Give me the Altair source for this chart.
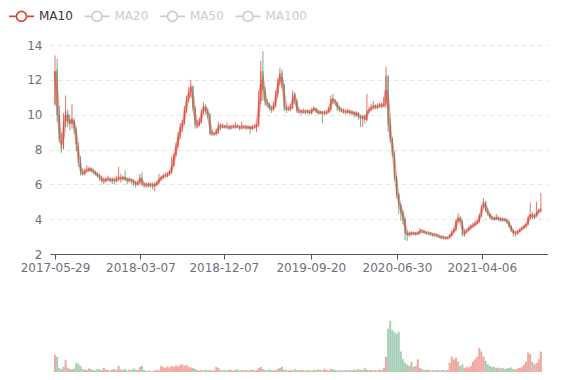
import altair as alt
import pandas as pd

# ---------------- data (weekly candles) ----------------
OPEN = [10.6, 12.6, 10.0, 8.5, 8.1, 9.6, 10.1, 9.7, 9.5, 9.7,
        9.2, 8.2, 7.2, 6.7, 6.6, 6.8, 6.8, 6.9, 6.8, 6.7,
        6.6, 6.5, 6.4, 6.2, 6.2, 6.3, 6.3, 6.2, 6.3, 6.2,
        6.3, 6.4, 6.3, 6.4, 6.3, 6.2, 6.3, 6.2, 6.1, 6.0,
        6.1, 6.4, 6.0, 5.95, 6.0, 5.95, 6.0, 5.9, 6.0, 6.1,
        6.3, 6.4, 6.5, 6.5, 6.6, 6.7, 7.1, 7.7, 8.2, 8.8,
        9.3, 9.5, 10.3, 10.9, 11.3, 11.6, 10.4, 9.4, 9.4, 9.6,
        10.2, 10.5, 10.2, 10.0, 8.9, 8.9, 8.9, 9.0, 9.4, 9.3,
        9.35, 9.3, 9.3, 9.25, 9.3, 9.3, 9.35, 9.3, 9.25, 9.3,
        9.3, 9.25, 9.3, 9.2, 9.3, 9.3, 9.4, 10.8, 12.5, 11.4,
        10.7, 10.6, 10.4, 10.3, 10.5, 11.2, 11.9, 12.4, 11.7, 10.4,
        10.3, 10.35, 10.4, 11.2, 10.8, 10.2, 10.2, 10.15, 10.2, 10.15,
        10.2, 10.1, 10.3, 10.35, 10.2, 10.1, 10.15, 10.1, 10.1, 10.15,
        10.3, 10.9, 10.8, 10.7, 10.4, 10.3, 10.2, 10.2, 10.15, 10.2,
        10.1, 10.15, 10.0, 10.1, 9.9, 9.8, 9.9, 9.7, 10.2, 10.3,
        10.4, 10.5, 10.4, 10.5, 10.55, 10.5, 10.6, 12.2, 9.4, 8.6,
        7.8, 6.4, 5.4, 4.8, 4.4, 4.0, 3.2, 3.1, 3.2, 3.15,
        3.2, 3.15, 3.2, 3.35, 3.3, 3.25, 3.2, 3.2, 3.15, 3.1,
        3.1, 3.05, 3.0, 2.95, 2.95, 2.9, 2.95, 3.05, 3.25, 3.4,
        3.9, 4.1, 3.9, 3.1, 3.3, 3.35, 3.5, 3.6, 3.65, 3.75,
        3.85, 4.2, 4.7, 5.0, 4.5, 4.3, 4.1, 4.05, 4.0, 4.1,
        4.0, 3.95, 4.0, 3.95, 3.85, 3.6, 3.35, 3.2, 3.2, 3.3,
        3.4, 3.5, 3.6, 3.7, 4.1, 4.3, 4.1, 4.2, 4.4, 4.5]
CLOSE = [12.5, 10.0, 8.6, 8.0, 9.6, 10.2, 9.6, 9.5, 9.8, 9.2,
         8.3, 7.3, 6.7, 6.6, 6.8, 6.8, 6.9, 6.8, 6.7, 6.6,
         6.5, 6.4, 6.2, 6.2, 6.3, 6.3, 6.2, 6.3, 6.2, 6.3,
         6.4, 6.3, 6.4, 6.3, 6.2, 6.3, 6.2, 6.1, 6.0, 6.1,
         6.4, 6.0, 5.95, 6.0, 5.95, 6.0, 5.9, 6.0, 6.1, 6.3,
         6.4, 6.5, 6.5, 6.6, 6.7, 7.1, 7.7, 8.2, 8.8, 9.3,
         9.5, 10.3, 10.9, 11.3, 11.6, 10.4, 9.4, 9.4, 9.6, 10.2,
         10.5, 10.2, 10.0, 8.9, 8.9, 8.9, 9.0, 9.4, 9.3, 9.35,
         9.3, 9.3, 9.25, 9.3, 9.3, 9.35, 9.3, 9.25, 9.3, 9.3,
         9.25, 9.3, 9.2, 9.3, 9.3, 9.4, 10.8, 12.5, 11.4, 10.7,
         10.6, 10.4, 10.3, 10.5, 11.2, 11.9, 12.4, 11.7, 10.4, 10.3,
         10.35, 10.4, 11.2, 10.8, 10.2, 10.2, 10.15, 10.2, 10.15, 10.2,
         10.1, 10.3, 10.35, 10.2, 10.1, 10.15, 10.1, 10.1, 10.15, 10.3,
         10.9, 10.8, 10.7, 10.4, 10.3, 10.2, 10.2, 10.15, 10.2, 10.1,
         10.15, 10.0, 10.1, 9.9, 9.8, 9.9, 9.7, 10.2, 10.3, 10.4,
         10.5, 10.4, 10.5, 10.55, 10.5, 10.6, 12.2, 9.4, 8.6, 7.8,
         6.4, 5.4, 4.8, 4.4, 4.0, 3.2, 3.1, 3.2, 3.15, 3.2,
         3.15, 3.2, 3.35, 3.3, 3.25, 3.2, 3.2, 3.15, 3.1, 3.1,
         3.05, 3.0, 2.95, 2.95, 2.9, 2.95, 3.05, 3.25, 3.4, 3.9,
         4.1, 3.9, 3.1, 3.3, 3.35, 3.5, 3.6, 3.65, 3.75, 3.85,
         4.2, 4.7, 5.0, 4.5, 4.3, 4.1, 4.05, 4.0, 4.1, 4.0,
         3.95, 4.0, 3.95, 3.85, 3.6, 3.35, 3.2, 3.2, 3.3, 3.4,
         3.5, 3.6, 3.7, 4.1, 4.3, 4.1, 4.2, 4.4, 4.5, 4.6]
HIGH = [13.4, 13.2, 10.5, 9.0, 10.1, 11.1, 10.3, 10.0, 10.6, 9.8,
        9.3, 8.4, 7.6, 6.9, 6.9, 7.1, 7.0, 7.0, 6.9, 6.8,
        6.7, 6.6, 6.5, 6.4, 6.4, 6.5, 6.4, 6.4, 6.4, 6.5,
        7.0, 6.6, 6.5, 6.8, 6.4, 6.4, 6.3, 6.3, 6.2, 6.2,
        6.6, 6.7, 6.1, 6.1, 6.1, 6.1, 6.1, 6.1, 6.2, 6.6,
        6.5, 6.6, 6.7, 6.7, 6.8, 7.6, 7.8, 8.4, 9.0, 9.5,
        9.7, 10.5, 11.1, 11.6, 12.0, 11.7, 10.5, 9.7, 9.8, 10.3,
        10.7, 10.6, 10.4, 10.1, 9.1, 9.0, 9.2, 9.6, 9.5, 9.5,
        9.4, 9.55, 9.4, 9.4, 9.45, 9.6, 9.45, 9.4, 9.6, 9.4,
        9.4, 9.4, 9.35, 9.4, 9.45, 9.5, 11.4, 13.1, 13.65, 11.6,
        10.9, 10.7, 10.5, 10.7, 11.4, 12.1, 12.7, 12.6, 11.8, 10.5,
        10.5, 10.6, 11.4, 11.3, 10.9, 10.35, 10.3, 10.35, 10.3, 10.3,
        10.3, 10.4, 10.5, 10.4, 10.3, 10.25, 10.2, 10.25, 10.25, 10.45,
        11.1, 11.2, 10.9, 10.75, 10.5, 10.4, 10.35, 10.3, 10.35, 10.3,
        10.25, 10.2, 10.2, 10.15, 10.0, 10.0, 10.0, 11.2, 10.45, 10.6,
        10.8, 10.6, 10.65, 10.7, 10.7, 11.0, 12.75, 12.3, 9.8, 8.7,
        7.9, 6.5, 5.5, 4.9, 4.5, 4.1, 3.3, 3.3, 3.3, 3.3,
        3.25, 3.3, 3.5, 3.4, 3.35, 3.3, 3.3, 3.25, 3.2, 3.2,
        3.15, 3.1, 3.05, 3.05, 3.0, 3.0, 3.15, 3.35, 3.5, 4.0,
        4.35, 4.2, 3.95, 3.4, 3.45, 3.6, 3.7, 3.8, 3.9, 3.95,
        4.3, 4.8, 5.2, 5.05, 4.6, 4.35, 4.2, 4.15, 4.3, 4.15,
        4.1, 4.1, 4.05, 4.0, 3.9, 3.65, 3.4, 3.3, 3.35, 3.45,
        3.55, 3.65, 3.75, 4.2, 4.95, 4.4, 4.3, 5.0, 4.6, 5.5]
LOW = [10.5, 9.6, 8.4, 7.8, 8.0, 9.3, 9.3, 9.1, 9.2, 8.9,
       7.9, 7.0, 6.5, 6.5, 6.5, 6.7, 6.7, 6.7, 6.6, 6.5,
       6.4, 6.2, 6.1, 6.0, 6.1, 6.2, 6.1, 6.0, 6.0, 6.1,
       6.2, 6.1, 6.2, 6.2, 6.0, 6.1, 6.0, 5.9, 5.8, 5.9,
       6.0, 5.9, 5.8, 5.8, 5.8, 5.8, 5.7, 5.6, 5.9, 6.0,
       6.2, 6.3, 6.4, 6.4, 6.5, 6.6, 7.0, 7.6, 8.1, 8.6,
       9.0, 9.4, 10.1, 10.7, 11.0, 10.2, 9.2, 9.2, 9.3, 9.5,
       10.0, 10.0, 9.8, 8.8, 8.8, 8.8, 8.8, 8.9, 9.1, 9.2,
       9.2, 9.2, 9.1, 9.15, 9.2, 9.2, 9.2, 9.1, 9.15, 9.2,
       9.1, 9.15, 8.9, 9.1, 9.2, 9.0, 9.3, 10.6, 10.8, 10.5,
       10.4, 10.2, 10.1, 10.2, 10.4, 11.0, 11.7, 11.5, 10.2, 10.1,
       10.2, 10.2, 10.3, 10.6, 10.1, 10.05, 10.0, 10.05, 10.0, 10.05,
       10.0, 10.0, 10.2, 10.1, 10.0, 10.0, 9.5, 10.0, 10.0, 10.1,
       10.2, 10.6, 10.5, 10.2, 10.15, 10.1, 10.05, 10.0, 10.05, 10.0,
       9.95, 9.85, 9.85, 9.7, 9.3, 9.3, 9.5, 9.6, 10.1, 10.2,
       10.3, 10.3, 10.3, 10.4, 10.35, 10.4, 10.4, 9.0, 8.4, 7.6,
       6.2, 5.2, 4.3, 3.9, 3.7, 2.8, 2.75, 3.0, 3.05, 3.1,
       3.05, 3.1, 3.15, 3.2, 3.15, 3.1, 3.1, 3.05, 3.0, 3.0,
       2.95, 2.9, 2.85, 2.85, 2.85, 2.85, 2.9, 3.0, 3.2, 3.3,
       3.8, 3.8, 3.0, 3.0, 3.2, 3.3, 3.4, 3.5, 3.6, 3.7,
       3.8, 4.1, 4.6, 4.4, 4.2, 4.0, 3.95, 3.9, 3.95, 3.9,
       3.85, 3.85, 3.85, 3.75, 3.5, 3.25, 3.0, 3.0, 3.1, 3.25,
       3.35, 3.45, 3.5, 3.65, 4.0, 4.0, 4.0, 4.1, 4.3, 4.4]
VOLUME = [34, 30,
          8, 6, 10, 24, 8, 6, 5, 7,
          18, 16, 12,
          6, 5, 4, 7, 5, 4, 3, 6, 5, 4, 8, 5, 4, 3, 5, 6, 4, 12, 5, 4, 6, 3, 5, 4, 7, 5, 4, 10, 12, 4, 2, 3,
          2, 2, 3, 4, 3,
          12, 10, 8, 11, 9, 12, 10, 13, 11, 14, 15, 12, 14, 10, 9, 8, 6,
          4, 3, 4, 3, 5, 3, 4, 3, 3,
          10, 8, 4,
          3, 4, 3, 5, 4, 3, 4, 6, 3, 4,
          3, 4, 3, 4, 5, 3, 4, 8, 10, 6,
          4, 3, 5, 4, 3, 4, 6, 8, 10, 5,
          4, 3, 4, 3, 6, 4, 3, 4, 3, 3,
          4, 3, 3, 4, 3, 5, 4, 3, 6, 4,
          3, 6, 5, 4, 3, 4, 3, 3, 4, 3,
          4, 3, 5, 4, 6, 5, 4, 8, 4, 3,
          4, 3, 4, 3, 5, 4, 8,
          30, 85, 100, 82, 78, 75, 79, 40, 25, 18,
          15, 12, 20, 10, 12, 25, 8, 6,
          4, 4, 5, 3, 4, 3, 4, 3, 3, 4, 3, 4,
          18, 30, 25, 28, 20, 12, 15,
          8, 10, 9, 12, 20,
          25, 30, 47, 40, 30, 22, 15, 12, 10,
          10, 8, 9, 7, 8, 6, 7, 8, 9, 6, 5, 7, 8,
          10, 14, 20, 38, 35, 20, 15, 18, 25, 40]
SERIES = ["MA10", "MA20", "MA50", "MA100"]
Y_TICKS = [2, 4, 6, 8, 10, 12, 14]
X_TICKS = ["2017-05-29", "2018-03-07", "2018-12-07", "2019-09-20", "2020-06-30", "2021-04-06"]
START, END = "2017-05-29", "2021-10-25"

assert len(OPEN) == len(CLOSE) == len(HIGH) == len(LOW) == len(VOLUME)

dates = pd.date_range(START, periods=len(CLOSE), freq="7D").strftime("%Y-%m-%d")
df = pd.DataFrame(dict(date=dates, open=OPEN, close=CLOSE, high=HIGH, low=LOW, volume=VOLUME))

RED = "#e0513f"
GREEN = "#4e9e70"
MA_RED = "#d9483b"
FONT = "DejaVu Sans"
AXIS_GREY = "#6e7079"


def dt(s):
    y, m, d = map(int, s.split("-"))
    return alt.DateTime(year=y, month=m, date=d, utc=True)


xscale = alt.Scale(type="utc", domain=[dt(START), dt(END)])
updown = alt.condition("datum.close >= datum.open", alt.value(RED), alt.value(GREEN))

x_main = alt.X("date:T", scale=xscale, title=None,
               axis=alt.Axis(values=[dt(s) for s in X_TICKS], format="%Y-%m-%d",
                             grid=False, domainColor="#555", tickColor="#555", tickSize=5,
                             labelPadding=3, labelFont=FONT, labelFontSize=12, labelColor=AXIS_GREY,
                             minExtent=20, maxExtent=20, labelOverlap=False))
yscale = alt.Scale(domain=[2, 14], nice=False, zero=False)
yaxis = alt.Axis(values=Y_TICKS, grid=True, gridDash=[4, 4], gridColor="#e0e0e0", domain=False,
                 ticks=False, labelPadding=8, labelFont=FONT, labelFontSize=12, labelColor=AXIS_GREY,
                 labelOverlap=False, minExtent=42, maxExtent=42, title=None)

base = alt.Chart(df).encode(x=x_main)

wick = base.mark_rule(strokeWidth=1, opacity=0.8).encode(
    y=alt.Y("low:Q", scale=yscale, axis=yaxis), y2="high:Q", color=updown)
body = base.mark_bar(size=1.3, opacity=0.8).encode(
    y=alt.Y("open:Q", scale=yscale, axis=yaxis), y2="close:Q", color=updown)

# legend glyph: short line, open circle, short line (ECharts line legend)
LEGEND_PATH = ("M-1.786,0 L-0.75,0 M0.75,0 L1.786,0 "
               "M-0.714,0 A0.714,0.714 0 1,1 0.714,0 A0.714,0.714 0 1,1 -0.714,0 Z")
ma = base.transform_window(
    ma="mean(close)", frame=[-1, 0], sort=[alt.SortField("date")]
).transform_calculate(series="'MA10'").mark_line(strokeWidth=3, opacity=0.5).encode(
    y=alt.Y("ma:Q", scale=yscale, axis=yaxis),
    color=alt.Color("series:N",
                    scale=alt.Scale(domain=SERIES, range=[MA_RED, "#cccccc", "#cccccc", "#cccccc"]),
                    legend=alt.Legend(title=None, orient="none", legendX=-36.5, legendY=-37,
                                      direction="horizontal", symbolType=LEGEND_PATH, symbolSize=196,
                                      symbolStrokeWidth=1.6, symbolFillColor="#ffffff", symbolOpacity=1,
                                      labelFont=FONT, labelFontSize=12,
                                      labelColor=alt.ExprRef("datum.label == 'MA10' ? '#333333' : '#cccccc'"),
                                      labelOffset=9.5, columnPadding=7.5, padding=0)))

main = alt.layer(wick, body, ma).properties(width=498, height=209)

vol = alt.Chart(df).mark_bar(size=2, opacity=0.5).encode(
    x=alt.X("date:T", scale=xscale, title=None,
            axis=alt.Axis(labels=False, ticks=False, grid=False, domainColor="#777",
                          minExtent=0, maxExtent=0)),
    y=alt.Y("volume:Q", scale=alt.Scale(domain=[0, 100], nice=False), axis=None),
    color=updown,
).properties(width=498, height=51)

chart = alt.vconcat(main, vol, spacing=47).properties(
    padding={"left": 0, "top": 0, "right": 0, "bottom": 0}
).configure_view(stroke=None)

chart.save("out.html", embed_options={"renderer": "svg", "actions": False})
